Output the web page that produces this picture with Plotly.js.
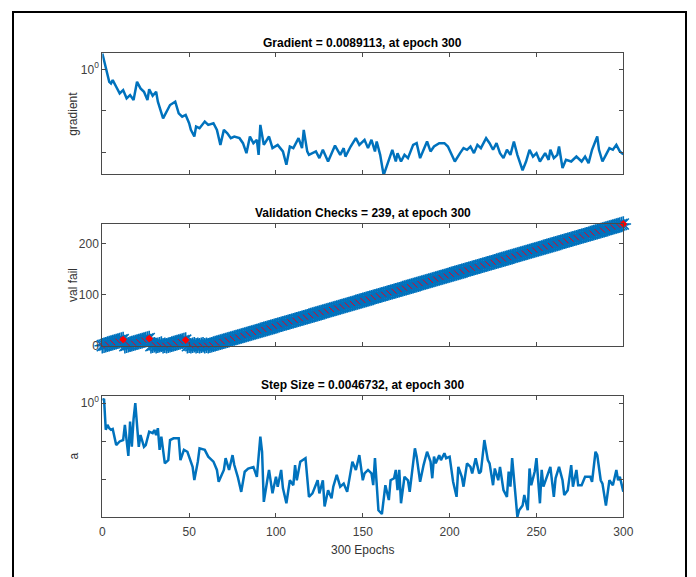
<!DOCTYPE html>
<html>
<head>
<meta charset="utf-8">
<script src="https://cdn.plot.ly/plotly-3.0.1.min.js"></script>
<style>
html,body{margin:0;padding:0;background:#fff;}
#wrap{position:relative;width:696px;height:577px;overflow:hidden;}
#chart{position:absolute;left:0;top:0;width:696px;height:577px;}
#frame{position:absolute;left:12px;top:11px;width:675px;height:620px;border:2px solid #000;box-sizing:border-box;pointer-events:none;}
</style>
</head>
<body>
<div id="wrap"><div id="chart"></div><div id="frame"></div></div>
<script>
// ---- Gradient (log scale) ----
const gradEpochs = [0,2,4,5,6,8,10,12,14,16,18,20,22,24,26,27,29,31,32,35,37,39,42,44,46,48,50,51,53,54,56,59,61,64,66,68,70,72,74,76,79,81,83,85,87,89,90,91,93,96,98,101,104,106,108,110,113,115,116,118,119,123,125,127,130,132,134,137,139,140,143,146,148,151,153,155,157,158,160,162,165,167,169,170,172,174,176,179,181,183,185,187,189,191,194,197,199,201,203,206,208,210,212,214,216,218,221,223,225,227,229,231,233,235,237,239,240,242,244,246,248,250,252,255,257,258,260,262,263,265,267,270,273,276,278,280,282,283,285,286,288,290,292,294,296,298,300];
const gradVals = [2.43,1.15,0.50,0.457,0.55,0.38,0.263,0.316,0.20,0.24,0.182,0.50,0.347,0.288,0.182,0.331,0.229,0.288,0.166,0.066,0.0955,0.138,0.166,0.087,0.0724,0.0794,0.0501,0.0347,0.024,0.0417,0.038,0.055,0.0457,0.0501,0.0347,0.0151,0.0347,0.0288,0.0219,0.024,0.0219,0.0166,0.00955,0.024,0.0166,0.020,0.0087,0.0457,0.0151,0.024,0.0126,0.0151,0.0105,0.005,0.0138,0.0126,0.0219,0.0126,0.0347,0.0105,0.0087,0.0105,0.00724,0.0115,0.006,0.00955,0.0145,0.0087,0.0126,0.0079,0.0138,0.0219,0.0151,0.020,0.0126,0.020,0.0105,0.0182,0.0087,0.00282,0.0066,0.0115,0.006,0.00955,0.006,0.0087,0.00724,0.0151,0.0166,0.00724,0.0115,0.0182,0.0105,0.0138,0.0166,0.0166,0.0138,0.0087,0.006,0.00955,0.0126,0.0115,0.0138,0.00955,0.0151,0.0126,0.0219,0.0166,0.0115,0.0166,0.00955,0.00724,0.0115,0.0087,0.0182,0.0087,0.0066,0.0037,0.006,0.0115,0.0079,0.00955,0.006,0.00955,0.0066,0.0115,0.00724,0.0087,0.0138,0.0042,0.0066,0.006,0.0079,0.006,0.0079,0.0055,0.0115,0.0151,0.024,0.0115,0.006,0.0087,0.0126,0.0115,0.0151,0.0105,0.0089113];

// ---- Validation checks ----
const valEpochs = [0,1,2,3,4,5,6,7,8,9,10,11,12,13,14,15,16,17,18,19,20,21,22,23,24,25,26,27,28,29,30,31,32,33,34,35,36,37,38,39,40,41,42,43,44,45,46,47,48,49,50,51,52,53,54,55,56,57,58,59,60,61,62,63,64,65,66,67,68,69,70,71,72,73,74,75,76,77,78,79,80,81,82,83,84,85,86,87,88,89,90,91,92,93,94,95,96,97,98,99,100,101,102,103,104,105,106,107,108,109,110,111,112,113,114,115,116,117,118,119,120,121,122,123,124,125,126,127,128,129,130,131,132,133,134,135,136,137,138,139,140,141,142,143,144,145,146,147,148,149,150,151,152,153,154,155,156,157,158,159,160,161,162,163,164,165,166,167,168,169,170,171,172,173,174,175,176,177,178,179,180,181,182,183,184,185,186,187,188,189,190,191,192,193,194,195,196,197,198,199,200,201,202,203,204,205,206,207,208,209,210,211,212,213,214,215,216,217,218,219,220,221,222,223,224,225,226,227,228,229,230,231,232,233,234,235,236,237,238,239,240,241,242,243,244,245,246,247,248,249,250,251,252,253,254,255,256,257,258,259,260,261,262,263,264,265,266,267,268,269,270,271,272,273,274,275,276,277,278,279,280,281,282,283,284,285,286,287,288,289,290,291,292,293,294,295,296,297,298,299,300];
const valFail = [0,1,2,3,4,5,6,7,8,9,10,11,12,
0,1,2,3,4,5,6,7,8,9,10,11,12,13,14,
0,1,2,0,1,2,3,0,1,
0,1,2,3,4,5,6,7,8,9,10,11,
0,1,0,1,2,0,1,0,1,2,0,1,
0,1,2,3,4,5,6,7,8,9,10,11,12,13,14,15,16,17,18,19,
20,21,22,23,24,25,26,27,28,29,30,31,32,33,34,35,36,37,38,39,
40,41,42,43,44,45,46,47,48,49,50,51,52,53,54,55,56,57,58,59,
60,61,62,63,64,65,66,67,68,69,70,71,72,73,74,75,76,77,78,79,
80,81,82,83,84,85,86,87,88,89,90,91,92,93,94,95,96,97,98,99,
100,101,102,103,104,105,106,107,108,109,110,111,112,113,114,115,116,117,118,119,
120,121,122,123,124,125,126,127,128,129,130,131,132,133,134,135,136,137,138,139,
140,141,142,143,144,145,146,147,148,149,150,151,152,153,154,155,156,157,158,159,
160,161,162,163,164,165,166,167,168,169,170,171,172,173,174,175,176,177,178,179,
180,181,182,183,184,185,186,187,188,189,190,191,192,193,194,195,196,197,198,199,
200,201,202,203,204,205,206,207,208,209,210,211,212,213,214,215,216,217,218,219,
220,221,222,223,224,225,226,227,228,229,230,231,232,233,234,235,236,237,238,239];
const valMarkEpochs = [12,27,48,300];
const valMarkVals = [12,14,11,239];

// ---- Step size (log scale) ----
const stepEpochs = [0,1,2,3,4,5,6,8,10,12,13,15,16,17,18,19,21,22,24,25,27,29,30,31,32,33,34,36,38,39,41,44,45,47,49,52,53,55,56,59,61,64,66,67,70,71,73,75,76,78,80,82,84,87,89,91,92,93,95,96,98,100,101,103,104,106,108,110,111,112,114,117,119,121,124,125,127,128,130,132,133,135,137,139,141,143,144,146,148,150,151,153,155,156,157,159,161,163,165,166,168,169,170,171,172,174,176,177,179,180,181,183,185,187,189,190,191,192,194,195,197,198,200,202,204,205,207,208,210,212,213,215,217,218,220,222,223,225,226,228,229,231,233,234,235,236,238,239,240,242,243,245,246,247,249,250,252,253,254,256,258,260,261,263,265,266,268,270,271,273,274,276,278,281,282,284,285,287,288,290,292,294,296,297,298,300];
const stepVals = [1.2,1.3,0.2,0.267,0.219,0.2,0.21,0.079,0.098,0.107,0.269,0.041,0.327,0.071,0.38,1.0,0.071,0.145,0.071,0.079,0.178,0.162,0.197,0.145,0.219,0.059,0.132,0.026,0.0316,0.107,0.119,0.119,0.0316,0.059,0.0525,0.0211,0.0094,0.0288,0.0646,0.059,0.0389,0.0288,0.0174,0.0085,0.0174,0.0355,0.0174,0.0427,0.0234,0.0115,0.0046,0.0156,0.019,0.0209,0.0115,0.132,0.0525,0.0025,0.0093,0.0174,0.0042,0.0115,0.0063,0.0174,0.0058,0.0023,0.0093,0.0069,0.0234,0.0093,0.0288,0.0355,0.0034,0.0042,0.0093,0.0042,0.0093,0.0019,0.0051,0.0031,0.0063,0.0129,0.0063,0.0076,0.0046,0.0174,0.0288,0.0174,0.0427,0.0093,0.0141,0.0174,0.0141,0.0069,0.0355,0.0015,0.0012,0.0069,0.0028,0.0093,0.0105,0.0174,0.0051,0.0174,0.0023,0.0115,0.0093,0.0046,0.026,0.0646,0.0389,0.0085,0.0234,0.0525,0.0288,0.0105,0.0389,0.026,0.0427,0.0316,0.0479,0.0355,0.0389,0.0085,0.0034,0.0209,0.0115,0.0063,0.026,0.0209,0.0141,0.0355,0.0141,0.0158,0.107,0.0316,0.026,0.0069,0.019,0.0093,0.0209,0.0051,0.0034,0.0158,0.0063,0.0355,0.0034,0.001,0.0015,0.002,0.0038,0.0015,0.019,0.0069,0.0158,0.0355,0.0023,0.0174,0.0063,0.0115,0.0209,0.0034,0.0105,0.0209,0.0093,0.0038,0.0051,0.0234,0.0063,0.0174,0.0069,0.0069,0.0115,0.0115,0.0085,0.0525,0.0427,0.0093,0.0076,0.002,0.0093,0.0069,0.0174,0.0093,0.0115,0.0046732];

const xTicks = [0,50,100,150,200,250,300];
const xTickText = ['0','50','100','150','200','250','300'];
const logMajorTicks = [1];
const logMajorText = ['10<sup>0</sup>'];
const logMinorTicks = [0.1,0.01,0.001];
const valTicks = [0,100,200];

const titles = ['Gradient = 0.0089113, at epoch 300','Validation Checks = 239, at epoch 300','Step Size = 0.0046732, at epoch 300'];
const yLabels = ['gradient','val fail','a'];
const xLabel = '300 Epochs';

// ---- layout geometry (pixels) ----
const W = 696, H = 577;
const px = v => v / W;
const py = v => 1 - v / H;
const blue = '#0072BD';
const axCol = '#4a4a4a';
const fontFam = 'Liberation Sans, Arial, sans-serif';
const tickFont = {family:fontFam, size:12, color:'#404040'};

function xa(showLabels, anchor){
  return {domain:[px(102.3), px(623.3)], range:[0,300], tickvals:xTicks, ticktext:xTickText,
    showticklabels:showLabels, ticks:'inside', ticklen:4, tickwidth:1, tickcolor:axCol,
    showline:true, linecolor:axCol, linewidth:1, mirror:'ticks', showgrid:false, zeroline:false,
    tickfont:tickFont, ticklabelstandoff:4, anchor:anchor};
}

const traces = [
  {x:gradEpochs, y:gradVals, xaxis:'x', yaxis:'y', mode:'lines', line:{color:blue, width:2.5}, hoverinfo:'skip'},
  {x:valEpochs, y:valFail, xaxis:'x2', yaxis:'y2', mode:'markers', cliponaxis:false,
    marker:{symbol:'asterisk-open', size:13, color:blue, line:{color:blue, width:1.6}}, hoverinfo:'skip'},
  {x:valEpochs, y:valFail, xaxis:'x2', yaxis:'y2', mode:'markers', cliponaxis:false,
    marker:{symbol:'line-nw-open', size:5, color:'#e8001c', maxdisplayed:140, line:{color:'#e8001c', width:1}}, hoverinfo:'skip'},
  {x:valMarkEpochs, y:valMarkVals, xaxis:'x2', yaxis:'y2', mode:'markers', cliponaxis:false,
    marker:{symbol:'diamond', size:6, color:'#ff0000'}, hoverinfo:'skip'},
  {x:stepEpochs, y:stepVals, xaxis:'x3', yaxis:'y3', mode:'lines', line:{color:blue, width:2.5}, hoverinfo:'skip'}
];

const yCommon = {ticks:'inside', ticklen:4, tickwidth:1, tickcolor:axCol, showline:true, linecolor:axCol,
  linewidth:1, mirror:'ticks', showgrid:false, zeroline:false, tickfont:tickFont};
const logMinor = {tickvals:logMinorTicks, ticks:'inside', ticklen:4, tickwidth:1, tickcolor:axCol, showgrid:false};

const layout = {
  width:W, height:H, margin:{l:0,r:0,t:0,b:0}, showlegend:false,
  paper_bgcolor:'#ffffff', plot_bgcolor:'#ffffff',
  xaxis: xa(false,'y'),
  xaxis2: xa(false,'y2'),
  xaxis3: xa(true,'y3'),
  yaxis: Object.assign({}, yCommon, {domain:[py(174.3), py(53.3)], type:'log', range:[-2.53,0.386], tickvals:logMajorTicks, ticktext:logMajorText, minor:logMinor, anchor:'x'}),
  yaxis2: Object.assign({}, yCommon, {domain:[py(345.7), py(224)], range:[0,239], tickvals:valTicks, anchor:'x2'}),
  yaxis3: Object.assign({}, yCommon, {domain:[py(517), py(396)], type:'log', range:[-3.0,0.19], tickvals:logMajorTicks, ticktext:logMajorText, minor:logMinor, anchor:'x3'}),
  annotations: [
    {text:'<b>'+titles[0]+'</b>', x:px(362.8), y:py(42.5)},
    {text:'<b>'+titles[1]+'</b>', x:px(362.8), y:py(213)},
    {text:'<b>'+titles[2]+'</b>', x:px(362.8), y:py(384.5)}
  ].map(a => Object.assign(a, {xref:'paper', yref:'paper', showarrow:false, xanchor:'center', yanchor:'middle',
      font:{family:fontFam, size:12, color:'#000'}}))
  .concat([
    {text:yLabels[0], x:px(73), y:py(113.8), textangle:-90},
    {text:yLabels[1], x:px(73), y:py(285), textangle:-90},
    {text:yLabels[2], x:px(73), y:py(456.5), textangle:-90},
    {text:xLabel, x:px(362.8), y:py(549.5), textangle:0}
  ].map(a => Object.assign(a, {xref:'paper', yref:'paper', showarrow:false, xanchor:'center', yanchor:'middle',
      font:{family:fontFam, size:12, color:'#333333'}})))
};

Plotly.newPlot('chart', traces, layout, {staticPlot:true, displayModeBar:false});
</script>
</body>
</html>
